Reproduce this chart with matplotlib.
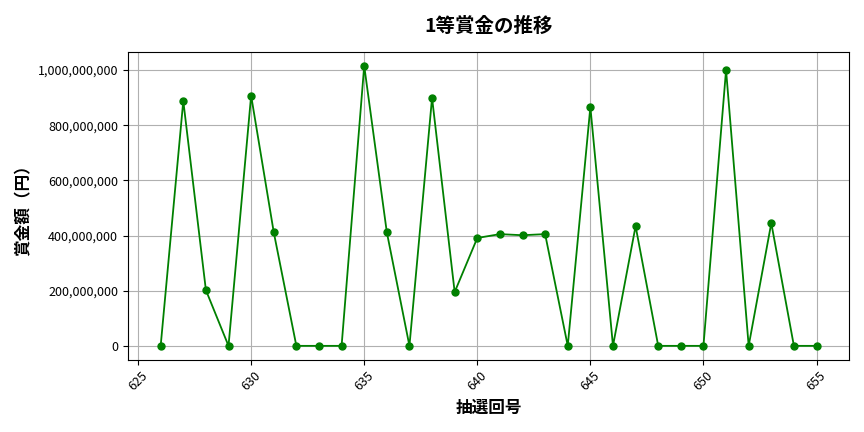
import matplotlib
matplotlib.use("Agg")
import matplotlib.pyplot as plt
import matplotlib.ticker as mticker

plt.rcParams["font.family"] = ["Noto Sans CJK JP", "DejaVu Sans"]

# ── Data ──────────────────────────────────────────────────────────────────────
draws = list(range(626, 656))
prize = [
    0, 888_000_000, 202_000_000, 0, 907_000_000, 412_000_000, 0, 0, 0,
    1_015_000_000, 412_000_000, 0, 899_000_000, 195_000_000, 391_000_000,
    405_000_000, 401_000_000, 405_000_000, 0, 866_000_000, 0, 434_000_000,
    0, 0, 0, 1_000_000_000, 0, 445_000_000, 0, 0,
]

fig, ax = plt.subplots(figsize=(8.64, 4.32), dpi=100)
fig.subplots_adjust(left=0.148, right=0.983, top=0.88, bottom=0.167)

ax.plot(draws, prize, marker="o", color="green", lw=1.3, ms=5)
ax.set_title("1等賞金の推移", fontsize=14, fontweight="bold", pad=14)
ax.set_xlabel("抽選回号", fontsize=12, fontweight="bold")
ax.set_ylabel("賞金額（円）", fontsize=12, fontweight="bold")
ax.yaxis.set_major_formatter(mticker.FuncFormatter(lambda v, p: f"{v:,.0f}"))
ax.tick_params(axis="x", rotation=45)
ax.tick_params(labelsize=9)
ax.grid(True, color="#b0b0b0", lw=0.8)

fig.savefig("out.png", dpi=100)
